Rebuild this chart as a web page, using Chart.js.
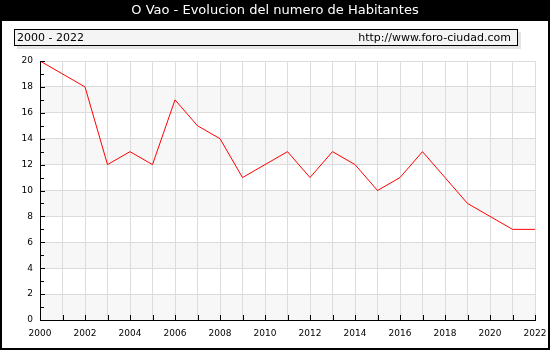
<!DOCTYPE html>
<html>
<head>
<meta charset="utf-8">
<script src="https://cdn.jsdelivr.net/npm/chart.js@4/dist/chart.umd.min.js"></script>
<style>
  body { margin: 0; background: #fff; }
  canvas { display: block; }
</style>
</head>
<body>
<canvas id="chart" width="550" height="350"></canvas>
<script>
// Data
const years = ['2000', '2001', '2002', '2003', '2004', '2005', '2006', '2007', '2008', '2009', '2010', '2011',
  '2012', '2013', '2014', '2015', '2016', '2017', '2018', '2019', '2020', '2021', '2022'];
const habitantes = [20, 19, 18, 12, 13, 12, 17, 15, 14, 11, 12, 13, 11, 13, 12, 10, 11, 13, 11, 9, 8, 7, 7];
const yTicks = [0, 2, 4, 6, 8, 10, 12, 14, 16, 18, 20];

const titleText = 'O Vao - Evolucion del numero de Habitantes';
const rangeText = '2000 - 2022';
const siteText = 'http://www.foro-ciudad.com';

const FONT = '"DejaVu Sans", Verdana, sans-serif';

// Frame, title bar, subtitle box and shaded bands
const framePlugin = {
  id: 'frame',
  beforeDraw(chart) {
    const ctx = chart.ctx;
    const area = chart.chartArea;
    const y = chart.scales.y;
    ctx.save();
    ctx.fillStyle = '#fff';
    ctx.fillRect(0, 0, chart.width, chart.height);

    // outer border
    ctx.strokeStyle = '#000';
    ctx.lineWidth = 2;
    ctx.strokeRect(1, 1, chart.width - 2, chart.height - 2);

    // title bar
    ctx.fillStyle = '#000';
    ctx.fillRect(0, 0, chart.width, 21);
    ctx.fillStyle = '#fff';
    ctx.font = '13px ' + FONT;
    ctx.textAlign = 'center';
    ctx.textBaseline = 'middle';
    ctx.fillText(titleText, chart.width / 2, 11);

    // subtitle box with shadow
    ctx.fillStyle = '#e4e4e4';
    ctx.fillRect(17, 32, 504, 17);
    ctx.fillStyle = '#f4f4f4';
    ctx.fillRect(14, 29, 503, 16);
    ctx.strokeStyle = '#000';
    ctx.lineWidth = 1;
    ctx.strokeRect(14.5, 29.5, 503, 16);
    ctx.fillStyle = '#000';
    ctx.font = '11px ' + FONT;
    ctx.textAlign = 'left';
    ctx.fillText(rangeText, 17, 38);
    ctx.textAlign = 'right';
    ctx.fillText(siteText, 511, 38);

    // alternating bands
    ctx.fillStyle = '#f7f7f7';
    for (let v = 0; v < 20; v += 4) {
      const top = y.getPixelForValue(v + 2);
      const bottom = y.getPixelForValue(v);
      ctx.fillRect(area.left, top, area.right - area.left, bottom - top);
    }
    ctx.restore();
  },
  afterDraw(chart) {
    // inward tick marks on both axes
    const ctx = chart.ctx;
    const area = chart.chartArea;
    const x = chart.scales.x;
    const y = chart.scales.y;
    ctx.save();
    ctx.strokeStyle = '#000';
    ctx.lineWidth = 1;
    ctx.beginPath();
    for (let v = 0; v <= 20; v++) {
      const py = Math.round(y.getPixelForValue(v)) + 0.5;
      const len = v % 2 === 0 ? 5 : 4;
      ctx.moveTo(area.left, py);
      ctx.lineTo(area.left + len, py);
    }
    for (let i = 0; i < years.length; i++) {
      const px = Math.round(x.getPixelForValue(i)) + 0.5;
      ctx.moveTo(px, area.bottom);
      ctx.lineTo(px, area.bottom - 5);
    }
    ctx.stroke();
    ctx.restore();
  }
};

new Chart(document.getElementById('chart'), {
  type: 'line',
  data: {
    labels: years,
    datasets: [{
      data: habitantes,
      borderColor: '#ff0000',
      borderWidth: 1,
      pointRadius: 0,
      tension: 0,
      fill: false
    }]
  },
  plugins: [framePlugin],
  options: {
    responsive: false,
    animation: false,
    layout: {
      padding: { top: 61, right: 15, left: 0, bottom: 0 }
    },
    plugins: {
      legend: { display: false },
      tooltip: { enabled: false }
    },
    scales: {
      x: {
        grid: { color: '#dcdcdc', drawTicks: false },
        border: { color: '#000', width: 1 },
        ticks: {
          autoSkip: false,
          maxRotation: 0,
          padding: 8,
          color: '#000',
          font: { family: FONT, size: 9 },
          callback: (v, i) => (i % 2 === 0 ? years[i] : '')
        },
        afterFit: (s) => {
          s.height = 30;
          s.paddingLeft = 0;
          s.paddingRight = 0;
        }
      },
      y: {
        min: 0,
        max: 20,
        grid: { color: '#dcdcdc', drawTicks: false },
        border: { color: '#000', width: 1 },
        afterBuildTicks: (s) => { s.ticks = yTicks.map((v) => ({ value: v })); },
        ticks: {
          padding: 7,
          color: '#000',
          font: { family: FONT, size: 9 }
        },
        afterFit: (s) => {
          s.width = 40;
          s.paddingTop = 0;
          s.paddingBottom = 0;
        }
      }
    }
  }
});
</script>
</body>
</html>
